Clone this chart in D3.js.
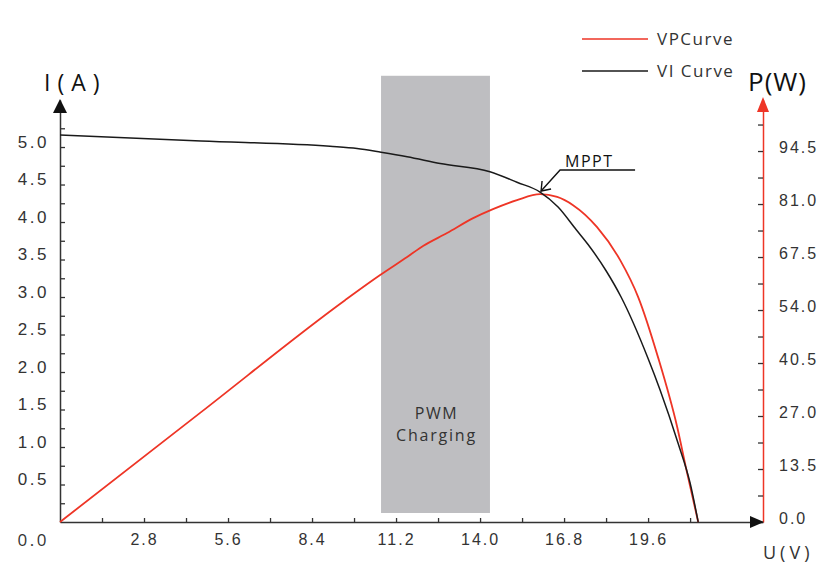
<!DOCTYPE html>
<html>
<head>
<meta charset="utf-8">
<script src="https://cdn.jsdelivr.net/npm/d3@7"></script>
<style>
  body { margin: 0; background: #fff; }
  svg { display: block; font-family: "Open Sans", sans-serif; }
</style>
</head>
<body>
<div class="graph"></div>
<script>
// ===== data =====
// VI curve (black, left axis)
let viVolt    = [0, 4.7, 9.0, 9.9, 10.7, 11.57, 12.67, 14.33, 15.23, 16.0, 16.6, 17.2, 17.6, 18.2, 18.7, 19.6, 20.0, 20.6, 21.0, 21.27];
let viCurrent = [5.16, 5.08, 5.01, 4.98, 4.93, 4.87, 4.78, 4.67, 4.53, 4.40, 4.20, 3.90, 3.70, 3.35, 3.0, 2.18, 1.76, 1.05, 0.52, 0];

// VP curve (red, right axis)
let vpVolt  = [0, 4.67, 9.5, 10.67, 11.57, 12.1, 12.9, 13.77, 14.43, 15.23, 16.0, 16.57, 17.1, 17.9, 18.67, 19.27, 19.93, 20.57, 20.9, 21.27];
let vpPower = [0, 27.8, 56.5, 62.9, 67.5, 70.3, 73.6, 77.4, 79.7, 82.0, 83.5, 82.8, 80.7, 75.1, 66.7, 57.3, 42.0, 24.2, 12.5, 0];

// ticks
let uTicks  = [1.4, 2.8, 4.2, 5.6, 7.0, 8.4, 9.8, 11.2, 12.6, 14.0, 15.4, 16.8, 18.2, 19.6, 21.0];
let uLabels = [2.8, 5.6, 8.4, 11.2, 14.0, 16.8, 19.6];
let iTicks  = [0.25, 0.5, 0.75, 1.0, 1.25, 1.5, 1.75, 2.0, 2.25, 2.5, 2.75, 3.0, 3.25, 3.5, 3.75, 4.0, 4.25, 4.5, 4.75, 5.0, 5.25];
let iLabels = [0.5, 1.0, 1.5, 2.0, 2.5, 3.0, 3.5, 4.0, 4.5, 5.0];
let pTicks  = [0, 6.75, 13.5, 20.25, 27.0, 33.75, 40.5, 47.25, 54.0, 60.75, 67.5, 74.25, 81.0, 87.75, 94.5, 101.25];
let pLabels = [0, 13.5, 27.0, 40.5, 54.0, 67.5, 81.0, 94.5];

// PWM band (volts / amps) and MPPT point
let pwmBand = [10.7, 14.33];
let pwmSpan = [0.12, 5.95];
let mppt = {u: 16.0, i: 4.40};

let red = "#ee3526";
let dark = "#333";

let width = 825, height = 564;
let svg = d3.select(".graph").append("svg")
    .attr("width", width)
    .attr("height", height);

let x = d3.scaleLinear().domain([0, 23.43]).range([60, 763]);
let yI = d3.scaleLinear().domain([0, 5.627]).range([522, 100]);
let yP = d3.scaleLinear().domain([0, 107.5]).range([522, 100]);

// ========= PWM band ==========
svg.append("rect")
    .attr("x", x(pwmBand[0]))
    .attr("y", yI(pwmSpan[1]))
    .attr("width", x(pwmBand[1]) - x(pwmBand[0]))
    .attr("height", yI(pwmSpan[0]) - yI(pwmSpan[1]))
    .attr("fill", "#bebec1")

let bandMid = (x(pwmBand[0]) + x(pwmBand[1])) / 2;
svg.append("text")
    .attr("x", bandMid + 1).attr("y", 419)
    .attr("text-anchor", "middle")
    .attr("fill", dark)
    .style("font-size", "16px").style("letter-spacing", "1.5px")
    .text("PWM")
svg.append("text")
    .attr("x", bandMid + 1).attr("y", 441)
    .attr("text-anchor", "middle")
    .attr("fill", dark)
    .style("font-size", "16px").style("letter-spacing", "1.8px")
    .text("Charging")

// ========= axes ==========
let fmt = d3.format(".1f");

let xAxis = svg.append("g")
    .attr("transform", "translate(0,522)")
    .call(d3.axisBottom(x).tickValues(uTicks).tickSize(-4).tickSizeOuter(0).tickPadding(12)
        .tickFormat(d => uLabels.some(v => Math.abs(v - d) < 1e-6) ? fmt(d) : ""))
xAxis.select(".domain").attr("stroke", dark).attr("stroke-width", 1.5)
xAxis.selectAll(".tick line").attr("stroke", dark).attr("stroke-width", 1.3)
xAxis.selectAll("text").attr("fill", dark).style("font-size", "16px").style("letter-spacing", "2px")

let leftAxis = svg.append("g")
    .attr("transform", "translate(60,0)")
    .call(d3.axisLeft(yI).tickValues(iTicks).tickSize(-5).tickSizeOuter(0).tickPadding(11)
        .tickFormat(d => iLabels.some(v => Math.abs(v - d) < 1e-6) ? fmt(d) : ""))
leftAxis.select(".domain").attr("stroke", dark).attr("stroke-width", 1.5)
leftAxis.selectAll(".tick line").attr("stroke", dark).attr("stroke-width", 1.3)
leftAxis.selectAll("text").attr("fill", dark).attr("y", -5).style("font-size", "17px").style("letter-spacing", "2.5px")

let rightAxis = svg.append("g")
    .attr("transform", "translate(763,0)")
    .call(d3.axisRight(yP).tickValues(pTicks).tickSize(-5).tickSizeOuter(0).tickPadding(16)
        .tickFormat(d => pLabels.some(v => Math.abs(v - d) < 1e-6) ? fmt(d) : ""))
rightAxis.select(".domain").attr("stroke", red).attr("stroke-width", 1.5)
rightAxis.selectAll(".tick line").attr("stroke", dark).attr("stroke-width", 1.3)
rightAxis.selectAll("text").attr("fill", dark).attr("y", -4).style("font-size", "16px").style("letter-spacing", "2px")

// origin label for the current axis
svg.append("text")
    .attr("x", 49).attr("y", 546)
    .attr("text-anchor", "end")
    .attr("fill", dark)
    .style("font-size", "17px").style("letter-spacing", "2.5px")
    .text(fmt(0))

// arrow heads
svg.append("path")
    .attr("d", "M53,113 L60,99 L67,113 Z")
    .attr("fill", "#111")
svg.append("path")
    .attr("d", "M750,516 L764,522 L750,528 Z")
    .attr("fill", "#111")
svg.append("path")
    .attr("d", "M757,112 L763,97 L769,112 Z")
    .attr("fill", red)

// axis titles
svg.append("text")
    .attr("x", 44).attr("y", 91)
    .attr("fill", "#111")
    .style("font-size", "23px").style("letter-spacing", "7px")
    .text("I(A)")
svg.append("text")
    .attr("x", 748).attr("y", 91)
    .attr("fill", "#111")
    .style("font-size", "26px").style("letter-spacing", "1px")
    .text("P(W)")
svg.append("text")
    .attr("x", 763).attr("y", 559)
    .attr("fill", dark)
    .style("font-size", "18px").style("letter-spacing", "4px")
    .text("U(V)")

// ========= curves ==========
let viData = viVolt.map((u, k) => ({u: u, v: viCurrent[k]}));
let vpData = vpVolt.map((u, k) => ({u: u, v: vpPower[k]}));

let lineVI = d3.line()
    .x(d => x(d.u))
    .y(d => yI(d.v))
    .curve(d3.curveMonotoneX)
let lineVP = d3.line()
    .x(d => x(d.u))
    .y(d => yP(d.v))
    .curve(d3.curveMonotoneX)

svg.append("path")
    .data([vpData])
    .attr("d", lineVP)
    .attr("fill", "none")
    .attr("stroke", red)
    .attr("stroke-width", 1.8)

svg.append("path")
    .data([viData])
    .attr("d", lineVI)
    .attr("fill", "none")
    .attr("stroke", "#1a1a1a")
    .attr("stroke-width", 1.5)

// ========= MPPT annotation ==========
let mx = x(mppt.u), my = yI(mppt.i);
svg.append("path")
    .attr("d", "M" + (mx + 1) + "," + (my - 1) + " L" + (mx + 20) + "," + (my - 22) + " L" + (mx + 95) + "," + (my - 22))
    .attr("fill", "none")
    .attr("stroke", "#111")
    .attr("stroke-width", 1.4)
svg.append("path")
    .attr("d", "M" + (mx + 2) + "," + (my - 11) + " L" + (mx + 1) + "," + (my - 1) + " L" + (mx + 11) + "," + (my - 3))
    .attr("fill", "none")
    .attr("stroke", "#111")
    .attr("stroke-width", 1.4)
svg.append("text")
    .attr("x", mx + 25).attr("y", my - 25)
    .attr("fill", "#111")
    .style("font-size", "16px").style("letter-spacing", "1.5px")
    .text("MPPT")

// ========= legend ==========
let legend = [
    {name: "VPCurve", color: red, y: 39},
    {name: "VI Curve", color: "#1a1a1a", y: 71}
];
legend.forEach(function (d) {
    svg.append("line")
        .attr("x1", 582).attr("x2", 648)
        .attr("y1", d.y).attr("y2", d.y)
        .attr("stroke", d.color)
        .attr("stroke-width", 1.5)
    svg.append("text")
        .attr("x", 657).attr("y", d.y + 6)
        .attr("fill", dark)
        .style("font-size", "17px").style("letter-spacing", "1.5px")
        .text(d.name)
});
</script>
</body>
</html>
